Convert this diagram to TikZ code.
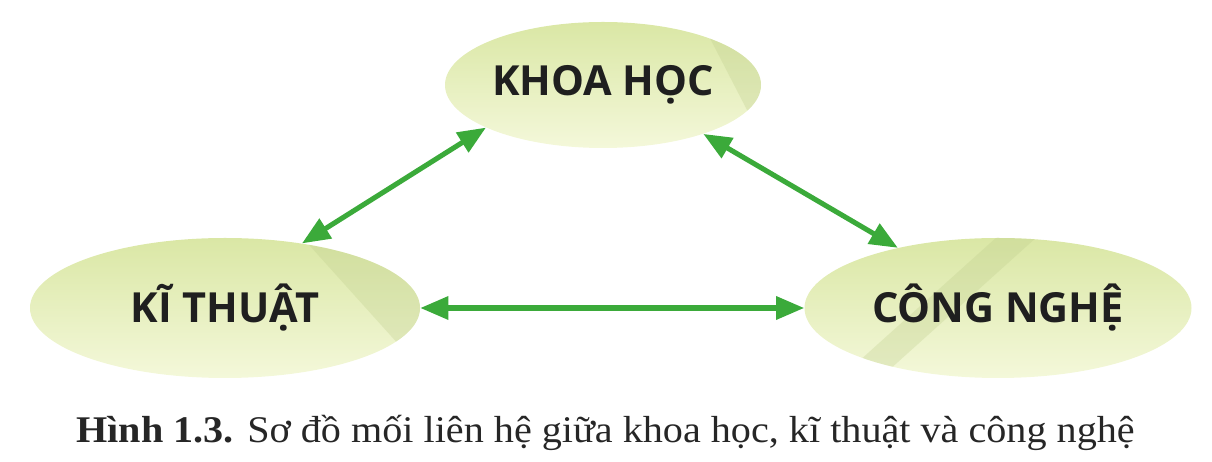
\documentclass[tikz,border=0pt]{standalone}
\usepackage{graphicx}
\usepackage{fontspec}
\setmainfont{Liberation Serif}
\newfontfamily\labelfont{Open Sans}
\usetikzlibrary{shapes.geometric,arrows.meta,calc,positioning}
\definecolor{linkgreen}{RGB}{59,170,58}
\definecolor{ovaltop}{RGB}{218,231,165}
\definecolor{ovalbottom}{RGB}{244,248,218}
\definecolor{sheen}{RGB}{190,205,140}
\tikzset{
	topic/.style={ellipse, inner sep=0pt, top color=ovaltop, bottom color=ovalbottom,
		font=\labelfont\bfseries\fontsize{29.5}{31}\selectfont, text=black!88},
	link/.style={linkgreen, line width=3.6pt, {Triangle[length=20pt,width=16pt]}-{Triangle[length=20pt,width=16pt]}},
}
\begin{document}
\begin{tikzpicture}
\useasboundingbox (0,0) rectangle (30.3,11.55);

\node[topic, minimum width=7.9cm, minimum height=3.15cm,
	path picture={\fill[sheen,opacity=.3] ($(path picture bounding box.center)+(2.4,1.7)$) -- ($(path picture bounding box.center)+(4,1.7)$) -- ($(path picture bounding box.center)+(4,-1.4)$) -- cycle;}
	](khoahoc) at (15.075,9.425) {KHOA HỌC};

\node[topic, minimum width=9.75cm, minimum height=3.5cm,
	path picture={\fill[sheen,opacity=.3] ($(path picture bounding box.center)+(1.9,1.8)$) -- ($(path picture bounding box.center)+(5,1.8)$) -- ($(path picture bounding box.center)+(5,-1.2)$) -- ($(path picture bounding box.center)+(4.6,-1.2)$) -- cycle;}
	](kithuat) at (5.625,3.85) {KĨ THUẬT};

\node[topic, minimum width=9.675cm, minimum height=3.5cm,
	path picture={\fill[sheen,opacity=.3] ($(path picture bounding box.center)+(0,1.8)$) -- ($(path picture bounding box.center)+(1,1.8)$) -- ($(path picture bounding box.center)+(-3,-1.8)$) -- ($(path picture bounding box.center)+(-4,-1.8)$) -- cycle;}
	](congnghe) at (24.95,3.85) {CÔNG NGHỆ};

\draw[link] (kithuat.40) -- (khoahoc.200);
\draw[link] (khoahoc.334) -- (congnghe.149);
\draw[link] (kithuat.east) -- (congnghe.west);

\node[anchor=base, font=\fontsize{26.8}{28}\selectfont, text=black!85] (caption) at (15.14,0.475)
	{\scalebox{1.066}[1]{\textbf{Hình 1.3.} Sơ đồ mối liên hệ giữa khoa học, kĩ thuật và công nghệ}};
\end{tikzpicture}
\end{document}
